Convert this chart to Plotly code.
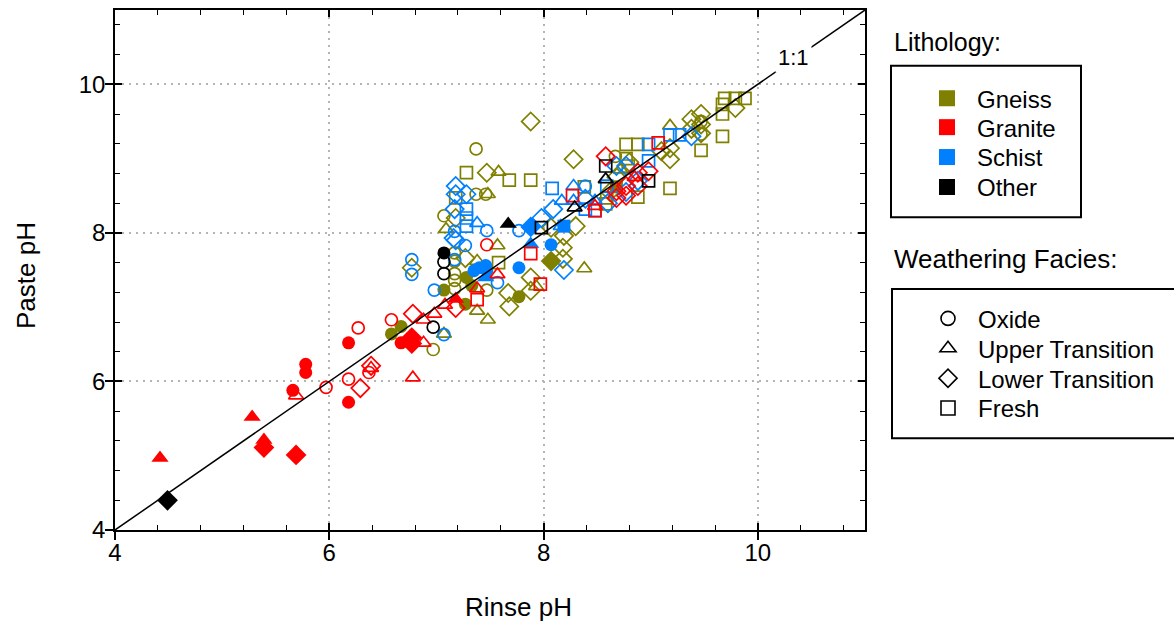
import plotly.graph_objects as go

# ---------------- data ----------------
# group code: facies letter (O=Oxide, U=Upper Transition, L=Lower Transition, F=Fresh)
# followed by 1 = filled marker, 0 = open marker

gneiss_rinse = [
    6.58, 6.67, 7.07, 7.27, 7.28, 7.33, 7.77,
    8.07,
    8.68,
    6.97, 7.37, 7.37, 7.46, 7.07, 7.17, 7.17, 7.17, 7.47, 8.67, 9.47, 9.47, 7.17, 7.17,
    7.07, 7.38, 7.48, 7.57, 7.58, 7.48, 7.09, 7.93, 8.38, 9.18, 8.72, 7.38,
    6.77, 7.47, 7.18, 7.88, 8.28, 7.67, 7.68, 7.88, 7.88, 8.18, 8.18, 8.07, 8.30, 8.19,
    9.38, 9.47, 9.47, 9.38, 9.47, 9.18, 9.18, 9.10, 9.79, 8.68, 8.80, 7.27, 8.62,
    7.28, 7.68, 7.88, 7.18, 7.58, 8.38, 8.58, 8.77, 8.88, 8.77, 8.79, 9.18, 8.88, 8.59,
    9.69, 9.79, 9.88, 9.67, 9.67, 9.67, 9.47,
]
gneiss_paste = [
    6.64, 6.74, 7.23, 7.04, 7.40, 7.29, 7.14,
    7.62,
    8.62,
    6.43, 9.13, 8.52, 8.52, 8.23, 7.73, 7.45, 7.25, 7.23, 9.03, 9.50, 9.33, 7.62, 7.36,
    6.64, 6.95, 6.83, 7.83, 8.82, 8.52, 8.05, 7.28, 7.52, 9.44, 8.85, 7.62,
    7.53, 8.81, 8.20, 9.50, 8.99, 7.19, 7.01, 7.40, 7.22, 7.80, 7.65, 8.07, 8.09, 7.96,
    9.53, 9.60, 9.46, 9.40, 9.34, 9.14, 8.99, 9.10, 9.68, 8.75, 8.95, 7.66, 8.55,
    8.81, 8.71, 8.71, 8.47, 7.60, 8.62, 8.39, 9.19, 9.19, 9.00, 8.90, 8.60, 8.48, 8.47,
    9.81, 9.81, 9.81, 9.73, 9.60, 9.30, 9.11,
]
gneiss_group = [
    "O1", "O1", "O1", "O1", "O1", "O1", "O1",
    "L1",
    "F1",
    "O0", "O0", "O0", "O0", "O0", "O0", "O0", "O0", "O0", "O0", "O0", "O0", "O0", "O0",
    "U0", "U0", "U0", "U0", "U0", "U0", "U0", "U0", "U0", "U0", "U0", "U0",
    "L0", "L0", "L0", "L0", "L0", "L0", "L0", "L0", "L0", "L0", "L0", "L0", "L0", "L0",
    "L0", "L0", "L0", "L0", "L0", "L0", "L0", "L0", "L0", "L0", "L0", "L0", "L0",
    "F0", "F0", "F0", "F0", "F0", "F0", "F0", "F0", "F0", "F0", "F0", "F0", "F0", "F0",
    "F0", "F0", "F0", "F0", "F0", "F0", "F0",
]

granite_rinse = [
    4.42, 5.28, 5.39, 7.18,
    5.39, 5.69, 6.77, 6.77,
    5.66, 5.78, 5.78, 6.18, 6.18, 6.67,
    5.97, 6.27, 6.18, 6.37, 6.58, 7.47,
    5.69, 6.39, 6.88, 6.88, 6.78, 6.98, 7.08, 7.38, 7.57, 8.48, 8.85,
    6.29, 6.39, 6.78, 7.18, 8.58, 8.88, 8.98, 8.77, 8.88, 8.68, 8.68, 8.77,
    7.38, 7.97, 7.88, 8.27, 8.48, 9.07,
]
granite_paste = [
    4.97, 5.52, 5.21, 7.11,
    5.11, 5.01, 6.59, 6.51,
    5.88, 6.23, 6.12, 6.52, 5.72, 6.52,
    5.92, 6.72, 6.03, 6.12, 6.83, 7.84,
    5.81, 6.18, 6.83, 6.52, 6.05, 6.91, 7.03, 7.25, 7.44, 8.36, 8.75,
    5.91, 6.21, 6.91, 6.99, 9.03, 8.81, 8.83, 8.63, 8.63, 8.56, 8.47, 8.50,
    7.10, 7.31, 7.72, 8.50, 8.30, 9.21,
]
granite_group = [
    "U1", "U1", "U1", "U1",
    "L1", "L1", "L1", "L1",
    "O1", "O1", "O1", "O1", "O1", "O1",
    "O0", "O0", "O0", "O0", "O0", "O0",
    "U0", "U0", "U0", "U0", "U0", "U0", "U0", "U0", "U0", "U0", "U0",
    "L0", "L0", "L0", "L0", "L0", "L0", "L0", "L0", "L0", "L0", "L0", "L0",
    "F0", "F0", "F0", "F0", "F0", "F0",
]

schist_rinse = [
    7.35, 7.40, 7.46, 7.47, 7.77, 8.07,
    7.46, 7.88,
    7.88,
    8.19,
    6.77, 6.77, 6.98, 7.07, 7.17, 7.27, 7.47, 7.77, 7.57, 8.39, 7.17,
    7.38, 8.17, 8.16, 8.28, 8.28, 8.48,
    7.18, 7.18, 7.28, 7.17, 7.16, 7.98, 8.09, 8.19, 8.39, 8.68, 8.77, 8.77, 8.88, 9.38, 8.60, 7.18,
    8.08, 7.28, 7.28, 7.28, 8.39, 8.48, 8.59, 8.98, 9.18, 9.27, 8.98,
]
schist_paste = [
    7.49, 7.53, 7.56, 7.49, 7.53, 7.84,
    7.40, 7.85,
    8.08,
    8.09,
    7.64, 7.44, 7.23, 6.63, 7.64, 7.83, 8.03, 8.03, 7.33, 8.63, 8.02,
    8.13, 8.43, 8.09, 8.63, 8.43, 8.43,
    8.63, 8.52, 8.52, 8.32, 7.93, 8.20, 8.32, 7.50, 8.46, 8.90, 8.90, 8.55, 8.70, 9.30, 8.40, 7.90,
    8.60, 8.32, 8.20, 8.09, 8.32, 8.30, 8.63, 9.19, 9.32, 9.32, 8.97,
]
schist_group = [
    "O1", "O1", "O1", "O1", "O1", "O1",
    "U1", "U1",
    "L1",
    "F1",
    "O0", "O0", "O0", "O0", "O0", "O0", "O0", "O0", "O0", "O0", "O0",
    "U0", "U0", "U0", "U0", "U0", "U0",
    "L0", "L0", "L0", "L0", "L0", "L0", "L0", "L0", "L0", "L0", "L0", "L0", "L0", "L0", "L0", "L0",
    "F0", "F0", "F0", "F0", "F0", "F0", "F0", "F0", "F0", "F0", "F0",
]

other_rinse = [4.49, 7.07, 7.67, 7.07, 7.07, 6.97, 8.29, 8.58, 7.98, 8.58, 8.98]
other_paste = [4.40, 7.73, 8.12, 7.61, 7.45, 6.73, 8.34, 8.72, 8.07, 8.90, 8.70]
other_group = ["L1", "O1", "U1", "O0", "O0", "O0", "U0", "U0", "F0", "F0", "F0"]

lithology_names = ["Gneiss", "Granite", "Schist", "Other"]
facies_names = ["Oxide", "Upper Transition", "Lower Transition", "Fresh"]
one_to_one = [4, 11]
x_ticks = [4, 6, 8, 10]
y_ticks = [4, 6, 8, 10]

# ---------------- styles ----------------
FONT = "Liberation Sans, Arial, sans-serif"
COLORS = {"Gneiss": "#808000", "Granite": "#FF0000", "Schist": "#0080FF", "Other": "#000000"}
SYMBOLS = {"O": "circle", "U": "triangle-up", "L": "diamond", "F": "square"}
SIZES_OPEN = {"O": 12, "U": 13, "L": 14, "F": 12}
SIZES_FILLED = {"O": 13, "U": 15, "L": 16, "F": 13}
FACIES_CODE = dict(zip(facies_names, ["O", "U", "L", "F"]))

series = {
    "Gneiss": (gneiss_rinse, gneiss_paste, gneiss_group),
    "Schist": (schist_rinse, schist_paste, schist_group),
    "Granite": (granite_rinse, granite_paste, granite_group),
    "Other": (other_rinse, other_paste, other_group),
}

L, R, T, B = 115, 309, 8, 95
W, H = 1174, 625
pw, ph = W - L - R, H - T - B


def px2paper_x(p):
    return (p - L) / pw


def py2paper_y(p):
    return (H - B - p) / ph


fig = go.Figure()

for lith, (xs, ys, gs) in series.items():
    assert len(xs) == len(ys) == len(gs), lith
    color = COLORS[lith]
    for filled in ("0", "1"):
        for fac in ["O", "U", "L", "F"]:
            code = fac + filled
            px = [x for x, g in zip(xs, gs) if g == code]
            py = [y for y, g in zip(ys, gs) if g == code]
            if not px:
                continue
            if filled == "1":
                marker = dict(symbol=SYMBOLS[fac], size=SIZES_FILLED[fac], color=color,
                              line=dict(width=0))
            else:
                marker = dict(symbol=SYMBOLS[fac] + "-open", size=SIZES_OPEN[fac], color=color,
                              line=dict(width=1.7, color=color))
            fig.add_trace(go.Scatter(x=px, y=py, mode="markers", marker=marker,
                                     showlegend=False, hoverinfo="x+y",
                                     name=f"{lith} {code}"))

# 1:1 line
fig.add_trace(go.Scatter(x=one_to_one, y=one_to_one, mode="lines",
                         line=dict(color="black", width=1.5), showlegend=False,
                         hoverinfo="skip"))

# legend entries: one small legend per entry so the row spacing matches the reference
legend_layouts = {}
lith_rows = [97, 126, 156, 186]
facies_rows = [318, 348, 378, 408]
n = 0
for lith, row in zip(lithology_names, lith_rows):
    n += 1
    lname = "legend" if n == 1 else f"legend{n}"
    fig.add_trace(go.Scatter(x=[None], y=[None], mode="markers", name=lith,
                             marker=dict(symbol="square", size=16, color=COLORS[lith]),
                             legend=lname, showlegend=True))
    legend_layouts[lname] = dict(x=px2paper_x(917), y=py2paper_y(row), xanchor="left",
                                 yanchor="middle", bgcolor="rgba(0,0,0,0)", borderwidth=0,
                                 font=dict(size=24), itemwidth=50, itemclick=False)
for fac, row in zip(facies_names, facies_rows):
    n += 1
    lname = f"legend{n}"
    c = FACIES_CODE[fac]
    fig.add_trace(go.Scatter(x=[None], y=[None], mode="markers", name=fac,
                             marker=dict(symbol=SYMBOLS[c] + "-open", size=14, color="black",
                                         line=dict(width=1.6, color="black")),
                             legend=lname, showlegend=True))
    legend_layouts[lname] = dict(x=px2paper_x(918), y=py2paper_y(row), xanchor="left",
                                 yanchor="middle", bgcolor="rgba(0,0,0,0)", borderwidth=0,
                                 font=dict(size=24), itemwidth=50, itemclick=False)

# dummy trace for overlay axes (inside ticks / mirrored frame)
fig.add_trace(go.Scatter(x=[None], y=[None], xaxis="x2", yaxis="y2", showlegend=False,
                         hoverinfo="skip"))

axis_common = dict(range=[4, 11], showline=True, linecolor="black", linewidth=1.5,
                   zeroline=False)

fig.update_layout(
    width=W, height=H,
    margin=dict(l=L, r=R, t=T, b=B),
    paper_bgcolor="white", plot_bgcolor="white",
    font=dict(family=FONT, color="black"),
    xaxis=dict(**axis_common, tickvals=x_ticks, ticks="outside", ticklen=8, tickwidth=1.5,
               tickcolor="black", tickfont=dict(size=24), showgrid=True, gridcolor="#b4b4b4",
               gridwidth=1.5, griddash="2px,5px", ticklabelstandoff=-8),
    yaxis=dict(**axis_common, tickvals=y_ticks, ticks="outside", ticklen=8, tickwidth=1.5,
               tickcolor="black", tickfont=dict(size=24), showgrid=True, gridcolor="#b4b4b4",
               gridwidth=1.5, griddash="2px,5px", ticklabelstandoff=-5),
    xaxis2=dict(**axis_common, overlaying="x", anchor="y2", side="bottom", tickvals=x_ticks,
                ticks="inside", ticklen=7, tickwidth=1.5, tickcolor="black",
                showticklabels=False, showgrid=False, mirror="ticks",
                minor=dict(ticks="inside", ticklen=5, tickwidth=1.2, tickcolor="black",
                           dtick=0.4, tick0=4, showgrid=False)),
    yaxis2=dict(**axis_common, overlaying="y", anchor="x2", side="left", tickvals=y_ticks,
                ticks="inside", ticklen=7, tickwidth=1.5, tickcolor="black",
                showticklabels=False, showgrid=False, mirror="ticks",
                minor=dict(ticks="inside", ticklen=5, tickwidth=1.2, tickcolor="black",
                           dtick=0.4, tick0=4, showgrid=False)),
    showlegend=True,
    **legend_layouts,
)

# legend frames
fig.add_shape(type="rect", xref="paper", yref="paper",
              x0=px2paper_x(891), x1=px2paper_x(1081), y0=py2paper_y(216), y1=py2paper_y(64),
              line=dict(color="black", width=2), fillcolor="rgba(0,0,0,0)")
fig.add_shape(type="rect", xref="paper", yref="paper",
              x0=px2paper_x(892), x1=px2paper_x(1190), y0=py2paper_y(438), y1=py2paper_y(288),
              line=dict(color="black", width=2), fillcolor="rgba(0,0,0,0)")

# titles and labels
fig.add_annotation(text="Lithology:", xref="paper", yref="paper", x=px2paper_x(892),
                   y=py2paper_y(40), xanchor="left", yanchor="middle", showarrow=False,
                   font=dict(size=25))
fig.add_annotation(text="Weathering Facies:", xref="paper", yref="paper", x=px2paper_x(892),
                   y=py2paper_y(258), xanchor="left", yanchor="middle", showarrow=False,
                   font=dict(size=26))
fig.add_annotation(text="Rinse pH", xref="paper", yref="paper", x=px2paper_x(518),
                   y=py2paper_y(607), xanchor="center", yanchor="middle", showarrow=False,
                   font=dict(size=26))
fig.add_annotation(text="Paste pH", xref="paper", yref="paper", x=px2paper_x(26),
                   y=py2paper_y(275), xanchor="center", yanchor="middle", showarrow=False,
                   textangle=-90, font=dict(size=26))
fig.add_annotation(text="1:1", x=10.33, y=10.36, xref="x", yref="y", showarrow=False,
                   bgcolor="white", font=dict(size=22), borderpad=2)

fig.write_html("out.html")
